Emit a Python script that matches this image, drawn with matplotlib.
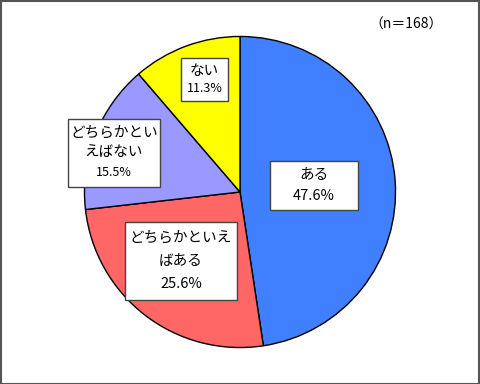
import matplotlib.pyplot as plt
from matplotlib.patches import Rectangle

plt.rcParams['font.family'] = ['Noto Sans CJK JP', 'DejaVu Sans']

# ---- data
categories = ["ある", "どちらかといえばある", "どちらかといえばない", "ない"]
values = [47.6, 25.6, 15.5, 11.3]
colors = ["#4080FF", "#FF6666", "#9999FF", "#FFFF00"]
n_text = "（n＝168）"

# label text lines (name part, percent part)
label_lines = [["ある"], ["どちらかといえ", "ばある"], ["どちらかとい", "えばない"], ["ない"]]
# box layout in figure pixels: left, top, width, height
boxes = [(270, 161, 88, 49), (125, 222, 112, 78), (68, 119, 92, 68), (181, 58, 47, 43)]
pct_size = [10.5, 10.5, 9, 9]

W, H = 480, 384
fig = plt.figure(figsize=(4.8, 3.84), dpi=100)

# outer frame
fig.patches.append(Rectangle((0.5 / W, 0.5 / H), (W - 1.5) / W, (H - 1.5) / H,
                             transform=fig.transFigure, fill=False,
                             edgecolor="#555555", linewidth=1.5))

ax = fig.add_axes([84 / W, 1 - 348 / H, 312 / W, 312 / H])
ax.pie(values, colors=colors, startangle=90, counterclock=False,
       wedgeprops=dict(edgecolor="black", linewidth=1))
ax.set_xlim(-1.003, 1.003)
ax.set_ylim(-1.003, 1.003)
ax.set_aspect("equal")

for lines, v, (l, t, w, h), ps in zip(label_lines, values, boxes, pct_size):
    fig.patches.append(Rectangle((l / W, 1 - (t + h) / H), w / W, h / H,
                                 transform=fig.transFigure, facecolor="white",
                                 edgecolor="#444444", linewidth=1, zorder=3))
    allines = lines + [f"{v:.1f}%"]
    k = len(allines)
    step = h / (k + 0.4)
    for i, s in enumerate(allines):
        cy = t + step * (i + 0.7)
        fs = ps if i == k - 1 else 10.5
        fig.text((l + w / 2) / W, 1 - cy / H, s, ha="center", va="center",
                 fontsize=fs, zorder=4)

fig.text(443 / W, 1 - 25 / H, n_text, ha="right", va="center", fontsize=10)

fig.savefig("out.png", dpi=100)
